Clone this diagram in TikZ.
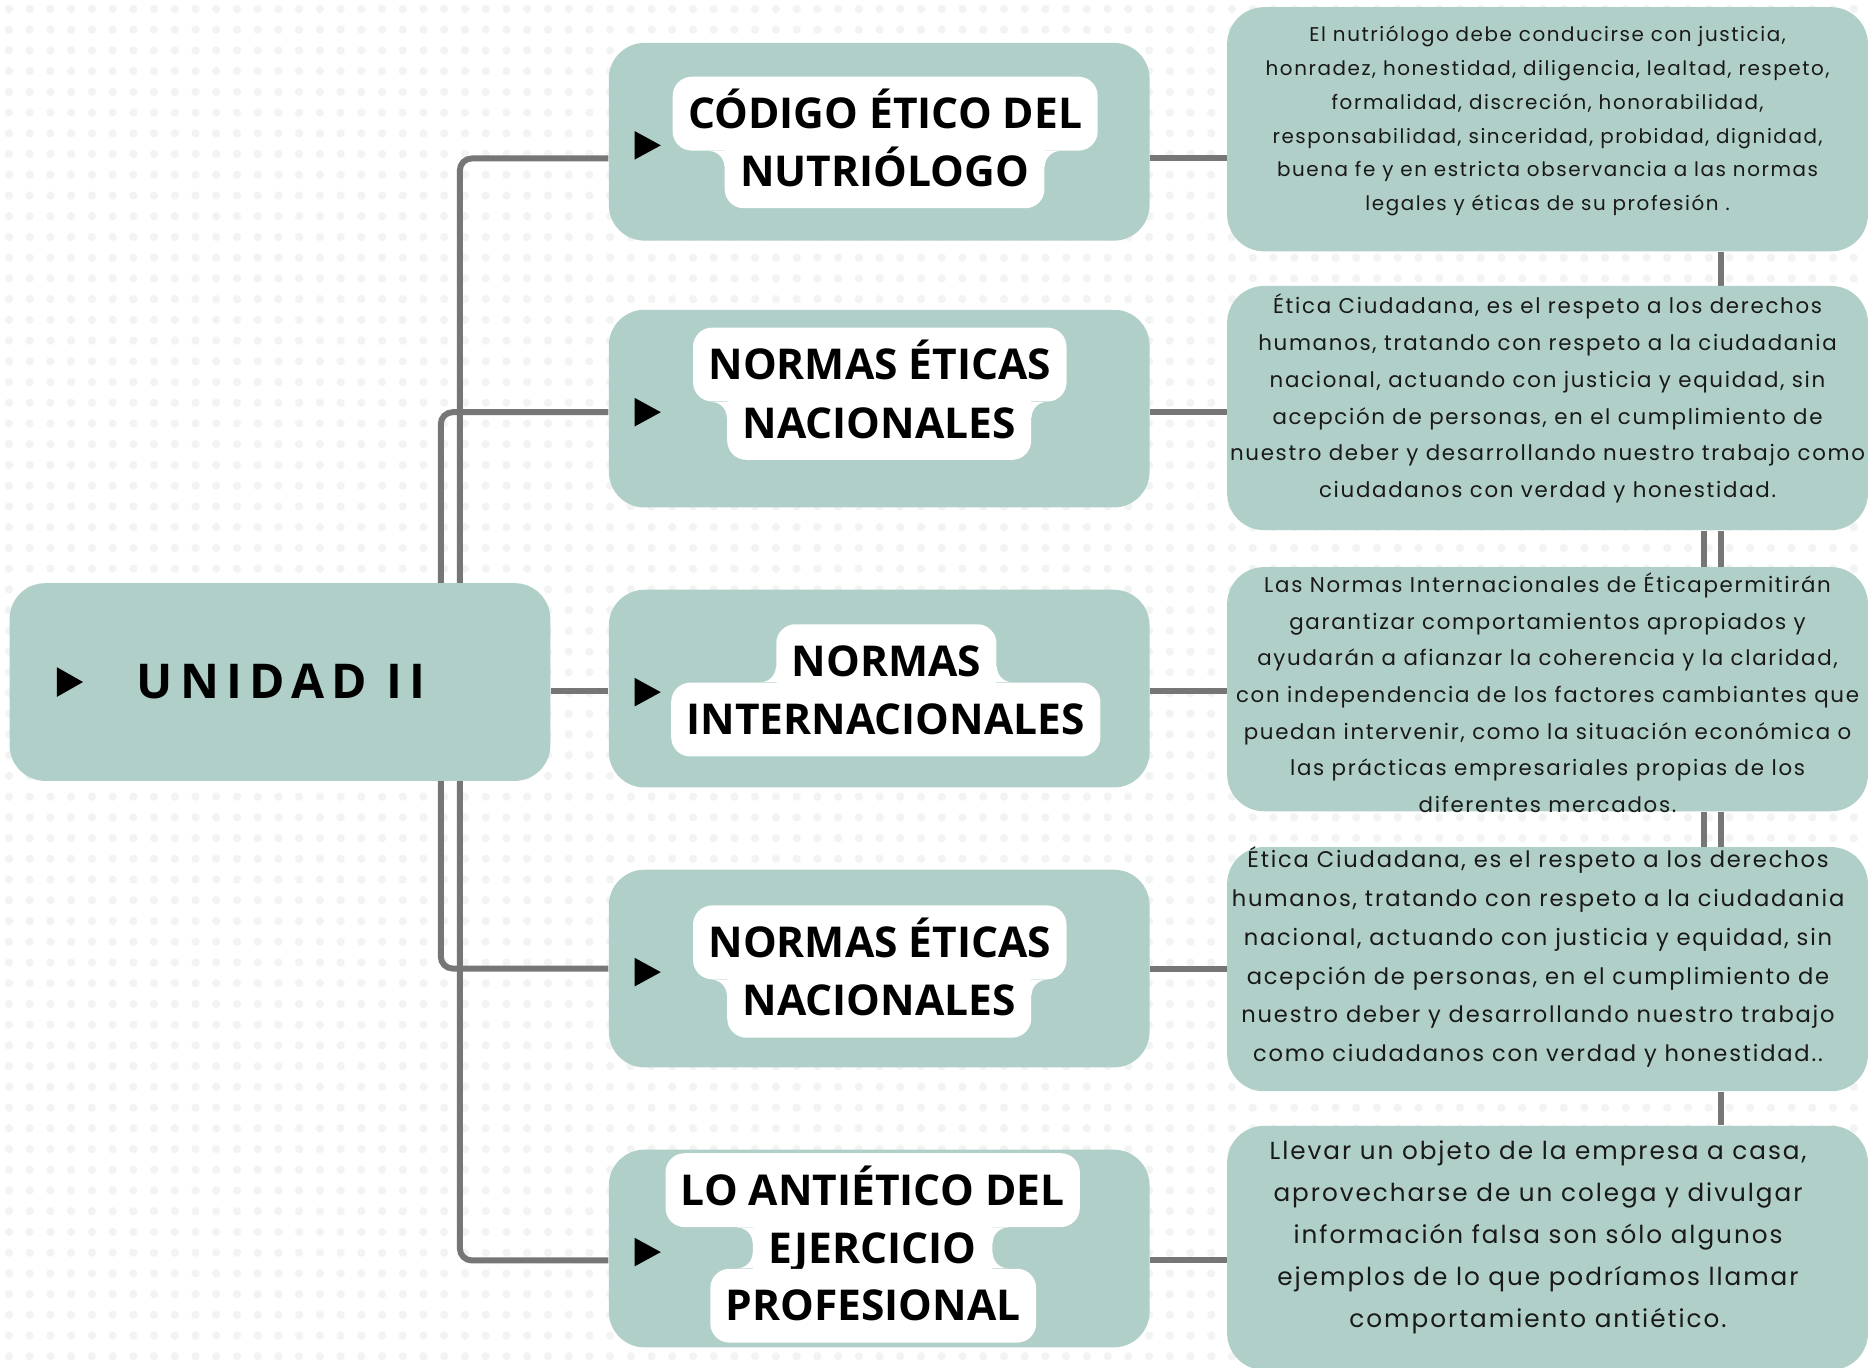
\documentclass[tikz,border=0pt]{standalone}
\usepackage{fontspec}
\usetikzlibrary{calc}
\setmainfont{Poppins}[LetterSpace=8]
\newfontfamily\headfont{Open Sans}
\newfontfamily\unitfont{Open Sans}[LetterSpace=15]
\definecolor{sage}{HTML}{B0CFC8}
\definecolor{linkgray}{HTML}{767676}
\definecolor{dotgray}{HTML}{F2F4F4}
\pgfdeclarelayer{bg}
\pgfsetlayers{bg,main}
% concave white joint between two label lines: corner, x direction, y direction
\newcommand\labeljoint[3]{%
	\coordinate (jc) at (#1);
	\fill[white] ($(jc)+({(#2)*0.26cm},0)$) -- ($(jc)+({(-1)*(#2)*0.06cm},0)$) -- ($(jc)+({(-1)*(#2)*0.06cm},{(#3)*0.26cm})$) -- ($(jc)+(0,{(#3)*0.26cm})$)
		.. controls ($(jc)+(0,{(#3)*0.116cm})$) and ($(jc)+({(#2)*0.116cm},0)$) .. ($(jc)+({(#2)*0.26cm},0)$) -- cycle;}

\begin{document}
\begin{tikzpicture}[x=0.02cm, y=-0.02cm,
	card/.style={fill=sage, rounded corners=0.6cm, minimum width=9.08cm, minimum height=3.32cm, inner sep=0pt},
	note/.style={fill=sage, rounded corners=0.62cm, minimum width=10.76cm, minimum height=4.1cm, inner sep=0pt},
	lbl/.style={fill=white, rounded corners=0.32cm, inner xsep=0.26cm, inner ysep=0pt, minimum height=1.24cm, text height=18pt, text depth=3.5pt, font=\headfont\bfseries\fontsize{20.3}{22}\selectfont},
	link/.style={draw=linkgray, line width=0.1cm}]
					\useasboundingbox (0,0) rectangle (1568,1148);

					\node[card] (unit) at (235,572.5) {};
					\node[card] (b1) at (738,119) {};
					\node[card] (b2) at (738,343) {};
					\node[card] (b3) at (738,578) {};
					\node[card] (b4) at (738,813) {};
					\node[card] (b5) at (738,1048) {};

					\node[note] (r1) at (1299,108.5) {};
					\node[note] (r2) at (1299,342.5) {};
					\node[note] (r3) at (1299,578.5) {};
					\node[note] (r4) at (1299,813.5) {};
					\node[note] (r5) at (1299,1047.5) {};

					\fill ([xshift=0.8cm]unit.west) ++(0,0.25cm) -- ++(0.44cm,-0.25cm) -- ++(-0.44cm,-0.25cm) -- cycle;
					\node[font=\unitfont\bfseries\fontsize{22.9}{24}\selectfont] (unitlbl) at (236,572.5) {UNIDAD II};

					\foreach \b in {b1,b2,b3,b4,b5}
						\fill ([xshift=0.44cm,yshift=-0.06cm]\b.west) ++(0,0.24cm) -- ++(0.44cm,-0.24cm) -- ++(-0.44cm,-0.24cm) -- cycle;

					\node[lbl] (t1a) at (743,95.4) {CÓDIGO ÉTICO DEL};
					\node[lbl] (t1b) at (742.5,143.8) {NUTRIÓLOGO};
					\node[lbl] (t2a) at (738.5,306) {NORMAS ÉTICAS};
					\node[lbl] (t2b) at (738,355) {NACIONALES};
					\node[lbl] (t3a) at (744,555) {NORMAS};
					\node[lbl] (t3b) at (743.5,604) {INTERNACIONALES};
					\node[lbl] (t4a) at (738.5,791) {NORMAS ÉTICAS};
					\node[lbl] (t4b) at (738,840) {NACIONALES};
					\node[lbl] (t5a) at (732.5,999) {LO ANTIÉTICO DEL};
					\node[lbl] (t5b) at (732.5,1048) {EJERCICIO};
					\node[lbl] (t5c) at (733,1096) {PROFESIONAL};

					\foreach \n/\w in {t1b/t1a, t2b/t2a, t4b/t4a, t5b/t5a} {
						\labeljoint{\n.west |- \w.south}{-1}{-1}
						\labeljoint{\n.east |- \w.south}{1}{-1}
					}
					\foreach \n/\w in {t3a/t3b, t5b/t5c} {
						\labeljoint{\n.west |- \w.north}{-1}{1}
						\labeljoint{\n.east |- \w.north}{1}{1}
					}

					\node[align=center, text=black!90, font=\fontsize{9.5}{16.2}\selectfont] (n1) at (1299,101.5) {El nutriólogo debe conducirse con justicia,\\honradez, honestidad, diligencia, lealtad, respeto,\\formalidad, discreción, honorabilidad,\\responsabilidad, sinceridad, probidad, dignidad,\\buena fe y en estricta observancia a las normas\\legales y éticas de su profesión .};
					\node[align=center, text=black!90, font=\fontsize{10.2}{17.6}\selectfont] (n2) at (1299,334.5) {Ética Ciudadana, es el respeto a los derechos\\humanos, tratando con respeto a la ciudadania\\nacional, actuando con justicia y equidad, sin\\acepción de personas, en el cumplimiento de\\nuestro deber y desarrollando nuestro trabajo como\\ciudadanos con verdad y honestidad.};
					\node[align=center, text=black!90, font=\fontsize{10.2}{17.5}\selectfont] (n3) at (1299,581.5) {Las Normas Internacionales de Éticapermitirán\\garantizar comportamientos apropiados y\\ayudarán a afianzar la coherencia y la claridad,\\con independencia de los factores cambiantes que\\puedan intervenir, como la situación económica o\\las prácticas empresariales propias de los\\diferentes mercados.};
					\node[align=center, text=black!90, font=\fontsize{10.8}{18.5}\selectfont] (n4) at (1291,803.5) {Ética Ciudadana, es el respeto a los derechos\\humanos, tratando con respeto a la ciudadania\\nacional, actuando con justicia y equidad, sin\\acepción de personas, en el cumplimiento de\\nuestro deber y desarrollando nuestro trabajo\\como ciudadanos con verdad y honestidad..};
					\node[align=center, text=black!90, font=\fontsize{11.8}{20}\selectfont] (n5) at (1291,1038.5) {Llevar un objeto de la empresa a casa,\\aprovecharse de un colega y divulgar\\información falsa son sólo algunos\\ejemplos de lo que podríamos llamar\\comportamiento antiético.};

					\begin{pgfonlayer}{bg}
					\fill[white] (0,0) rectangle (1568,1148);
					\foreach \i in {0,...,89}
						\foreach \j in {0,...,65}
							\fill[dotgray] (7.5+17.4*\i,7.5+17.4*\j) circle [radius=0.07cm];

					\draw[link, rounded corners=0.2cm] ([yshift=-0.28cm]b1.west) -| (386,600) |- ([yshift=-0.2cm]b5.west);
					\draw[link, rounded corners=0.2cm] ([yshift=-0.06cm]b2.west) -| (370,600) |- (b4.west);
					\coordinate (m3) at ([yshift=-0.04cm]b3.west);
					\draw[link] (m3) -- (m3 -| unit.east);

					\foreach \b/\r/\s in {b1/r1/-0.28cm, b2/r2/-0.06cm, b3/r3/-0.04cm, b4/r4/0cm, b5/r5/-0.2cm} {
						\coordinate (e) at ([yshift=\s]\b.east);
						\draw[link] (e) -- (e -| \r.west);
					}

					\draw[link] ([xshift=2.92cm]r1.south) -- ([xshift=2.92cm]r2.north);
					\draw[link] ([xshift=2.62cm]r2.south) -- ([xshift=2.62cm]r3.north);
					\draw[link] ([xshift=2.92cm]r2.south) -- ([xshift=2.92cm]r3.north);
					\draw[link] ([xshift=2.62cm]r3.south) -- ([xshift=2.62cm]r4.north);
					\draw[link] ([xshift=2.92cm]r3.south) -- ([xshift=2.92cm]r4.north);
					\draw[link] ([xshift=2.92cm]r4.south) -- ([xshift=2.92cm]r5.north);
					\end{pgfonlayer}
				\end{tikzpicture}
\end{document}
